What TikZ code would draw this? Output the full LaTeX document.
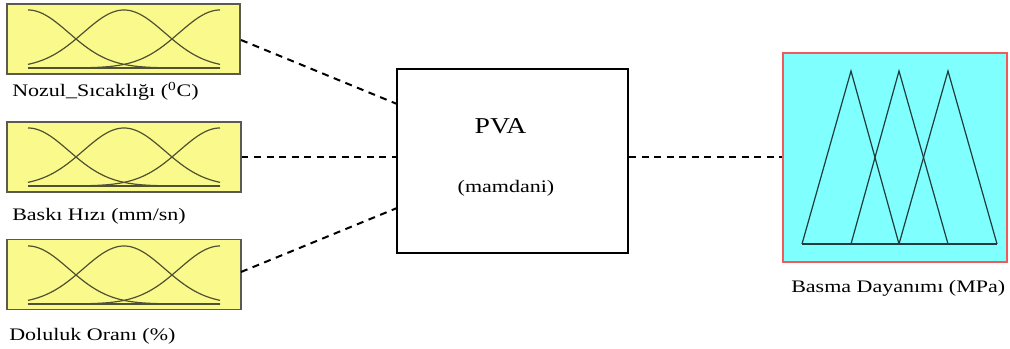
\documentclass[tikz,border=0pt]{standalone}
\usepackage{fontspec}
\setmainfont{Liberation Serif}
\definecolor{boxyellow}{RGB}{250,250,140}
\definecolor{boxedge}{RGB}{90,90,80}
\definecolor{mfcol}{RGB}{80,80,50}
\definecolor{outcyan}{RGB}{128,255,255}
\definecolor{outred}{RGB}{240,90,90}
\definecolor{tricol}{RGB}{30,60,60}
\newcommand{\wtxt}[1]{\scalebox{1.25}[1]{#1}}
\newcommand{\gaussmf}[2]{% #1 = bottom y, #2 = centre x
  \draw[mfmf] plot[domain=28:220,samples=80] (\x,{#1-58*exp(-0.5*((\x-#2)/40.8)^2)});}
\begin{document}
\begin{tikzpicture}[x=0.75pt,y=-0.75pt,
  inbox/.style={draw=boxedge,line width=1.3pt,fill=boxyellow,minimum width=175pt,minimum height=52.5pt,inner sep=0pt},
  mfmf/.style={draw=mfcol,line width=0.9pt},
  lbl/.style={inner sep=0pt,anchor=base west,font=\fontsize{13.2}{15}\selectfont},
  conn/.style={line width=1.5pt,dash pattern=on 5.2pt off 4.2pt},
  tri/.style={draw=tricol,line width=0.9pt,line join=miter}]
\useasboundingbox (0,0) rectangle (1010,349);
% input boxes
\node[inbox] (in1) at (123.5,39) {};
\node[inbox] (in2) at (124,157) {};
\node[inbox] (in3) at (124,274.5) {};
% membership functions
\foreach \yb in {68,186,304}{
  \gaussmf{\yb}{28}
  \gaussmf{\yb}{124}
  \gaussmf{\yb}{220}
  \draw[mfmf] (28,\yb) -- (220,\yb);
}
% labels
\node[lbl] (l1) at (12,96.5) {\wtxt{Nozul\_Sıcaklığı (\textsuperscript{0}C)}};
\node[lbl] (l2) at (12,220) {\wtxt{Baskı Hızı (mm/sn)}};
\node[lbl] (l3) at (9,340.5) {\wtxt{Doluluk Oranı (\%)}};
% PVA box
\node[draw=black,line width=1.6pt,fill=white,minimum width=173.25pt,minimum height=138pt,inner sep=0pt] (pva) at (512.5,161) {};
\node[inner sep=0pt,anchor=base,font=\fontsize{17}{19}\selectfont] (pvat) at (500.5,134) {\scalebox{1.22}[1]{PVA}};
\node[inner sep=0pt,anchor=base,font=\fontsize{13.2}{15}\selectfont] (mam) at (506,193) {\wtxt{(mamdani)}};
% output box
\node[draw=outred,line width=2pt,fill=outcyan,minimum width=168pt,minimum height=156.75pt,inner sep=0pt] (out) at (895,157.5) {};
\coordinate (b1) at (802,244);
\coordinate (b2) at (851,244);
\coordinate (b3) at (899,244);
\coordinate (b4) at (948,244);
\coordinate (b5) at (997,244);
\coordinate (a1) at (851,71);
\coordinate (a2) at (899,71);
\coordinate (a3) at (948,71);
\draw[tri] (b1) -- (a1) -- (b3);
\draw[tri] (b2) -- (a2) -- (b4);
\draw[tri] (b3) -- (a3) -- (b5);
\draw[tri] (b1) -- (b5);
\node[lbl] (l4) at (791,292) {\wtxt{Basma Dayanımı (MPa)}};
% connectors
\coordinate (p1) at (397,104);
\coordinate (p2) at (397,157);
\coordinate (p3) at (397,208);
\coordinate (q1) at (241,40);
\coordinate (q3) at (241,272);
\draw[conn] (q1) -- (p1);
\draw[conn] (in2.east) -- (p2);
\draw[conn] (q3) -- (p3);
\draw[conn] (pva.east |- out.west) -- (out.west);
\end{tikzpicture}
\end{document}
